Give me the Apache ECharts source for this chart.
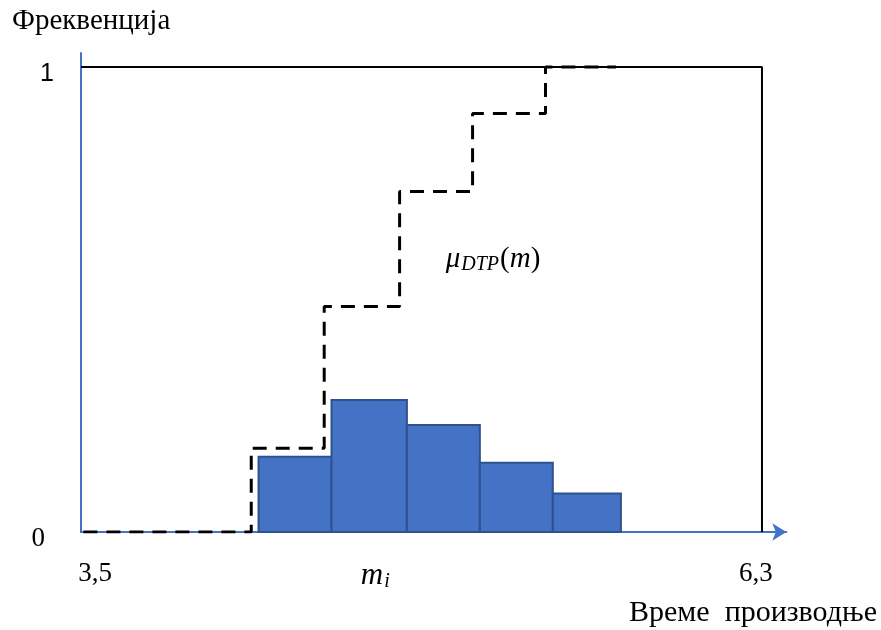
<!DOCTYPE html>
<html>
<head>
<meta charset="utf-8">
<script src="https://cdn.jsdelivr.net/npm/echarts@6/dist/echarts.min.js"></script>
<style>
  html, body { margin: 0; padding: 0; background: #fff; }
  #chart { width: 881px; height: 630px; }
</style>
</head>
<body>
<div id="chart"></div>
<script>
// хистограм: почетак и крај класе, фреквенција
const binStart = [4.23, 4.53, 4.84, 5.14, 5.44]
const binEnd = [4.53, 4.84, 5.14, 5.44, 5.72]
const binFreq = [0.162, 0.284, 0.230, 0.149, 0.083]

// степенаста функција mu_DTP(m)
const stepX = [3.51, 4.2, 4.5, 4.81, 5.11, 5.41, 5.7]
const stepY = [0, 0.18, 0.485, 0.732, 0.9, 1, 1]

// оквир (горња и десна линија)
const frameX = [3.5, 6.3, 6.3]
const frameY = [1, 1, 0]

// ознаке на осама
const xTickValues = [3.5, 4.71, 6.3]
const xTickLabels = ['3,5', 'm_i', '6,3']
const yTickValues = [0, 1]
const yTickLabels = ['0', '1']

const serif = '"Liberation Serif", "Times New Roman", serif'
const blue = '#4472C4'

var chartDom = document.getElementById('chart')
var myChart = echarts.init(chartDom)

function pick (values, labels, v) {
  let best = 0
  values.forEach((x, i) => { if (Math.abs(x - v) < Math.abs(values[best] - v)) best = i })
  return labels[best]
}

var option = {
  animation: false,
  grid: { left: 81, right: 94.7, top: 53, bottom: 98, containLabel: false },
  xAxis: {
    type: 'value',
    min: 3.5,
    max: 6.4,
    splitLine: { show: false },
    axisTick: { show: false },
    axisLine: {
      show: true,
      symbol: ['none', 'arrow'],
      symbolSize: [13, 14],
      lineStyle: { color: blue, width: 2 }
    },
    axisLabel: {
      show: true,
      customValues: xTickValues,
      margin: 28,
      formatter: function (v) {
        const t = pick(xTickValues, xTickLabels, v)
        if (t === 'm_i') return '{m|m}{s|i}'
        if (v < 4) return '{l|' + t + '}'
        return '{r|' + t + '}'
      },
      rich: {
        l: { fontFamily: serif, fontSize: 27, color: '#000', padding: [0, 0, 0, 28] },
        r: { fontFamily: serif, fontSize: 27, color: '#000', padding: [0, 12, 0, 0] },
        m: { fontFamily: serif, fontStyle: 'italic', fontSize: 31, color: '#000' },
        s: { fontFamily: serif, fontStyle: 'italic', fontSize: 20, color: '#000', padding: [12, 0, 0, 1] }
      }
    }
  },
  yAxis: {
    type: 'value',
    min: 0,
    max: 1.03,
    splitLine: { show: false },
    axisTick: { show: false },
    axisLine: { show: true, lineStyle: { color: blue, width: 2 } },
    axisLabel: {
      show: true,
      customValues: yTickValues,
      margin: 27,
      padding: [14, 0, 0, 0],
      formatter: function (v) {
        const t = pick(yTickValues, yTickLabels, v)
        return t === '1' ? '{a|1}' : '{b|0}'
      },
      rich: {
        a: { fontFamily: '"Liberation Sans", Arial, sans-serif', fontSize: 25, color: '#000' },
        b: { fontFamily: serif, fontSize: 27, color: '#000', padding: [0, 9, 0, 0] }
      }
    }
  },
  graphic: [
    { type: 'text', left: 12, top: 7, style: { text: 'Фреквенција', font: '29px ' + serif, fill: '#000' } },
    { type: 'text', left: 629, top: 598, style: { text: 'Време  производње', font: '30px ' + serif, fill: '#000' } },
    {
      type: 'text', x: 493, y: 259,
      style: {
        text: '{m|μ}{s|DTP}{p|(}{m|m}{p|)}',
        align: 'center',
        verticalAlign: 'middle',
        rich: {
          m: { fontFamily: serif, fontStyle: 'italic', fontSize: 29, fill: '#000' },
          p: { fontFamily: serif, fontSize: 29, fill: '#000' },
          s: { fontFamily: serif, fontStyle: 'italic', fontSize: 20, fill: '#000', padding: [12, 1, 0, 1] }
        }
      }
    }
  ],
  series: [
    {
      name: 'frame',
      type: 'line',
      z: 1,
      data: frameX.map((x, i) => [x, frameY[i]]),
      showSymbol: false,
      symbol: 'none',
      lineStyle: { color: '#000', width: 2 }
    },
    {
      name: 'muDTP',
      type: 'line',
      z: 2,
      step: 'end',
      data: stepX.map((x, i) => [x, stepY[i]]),
      showSymbol: false,
      symbol: 'none',
      lineStyle: { color: '#000', width: 3, type: [14, 9] }
    },
    {
      name: 'hist',
      type: 'custom',
      z: 3,
      data: binStart.map((s, i) => [s, binEnd[i], binFreq[i]]),
      encode: { x: [0, 1], y: 2 },
      renderItem: function (params, api) {
        const p0 = api.coord([api.value(0), api.value(2)])
        const p1 = api.coord([api.value(1), 0])
        return {
          type: 'rect',
          shape: { x: p0[0], y: p0[1], width: p1[0] - p0[0], height: p1[1] - p0[1] },
          style: { fill: blue, stroke: '#2F528F', lineWidth: 2 }
        }
      }
    }
  ]
}

option && myChart.setOption(option)
</script>
</body>
</html>
